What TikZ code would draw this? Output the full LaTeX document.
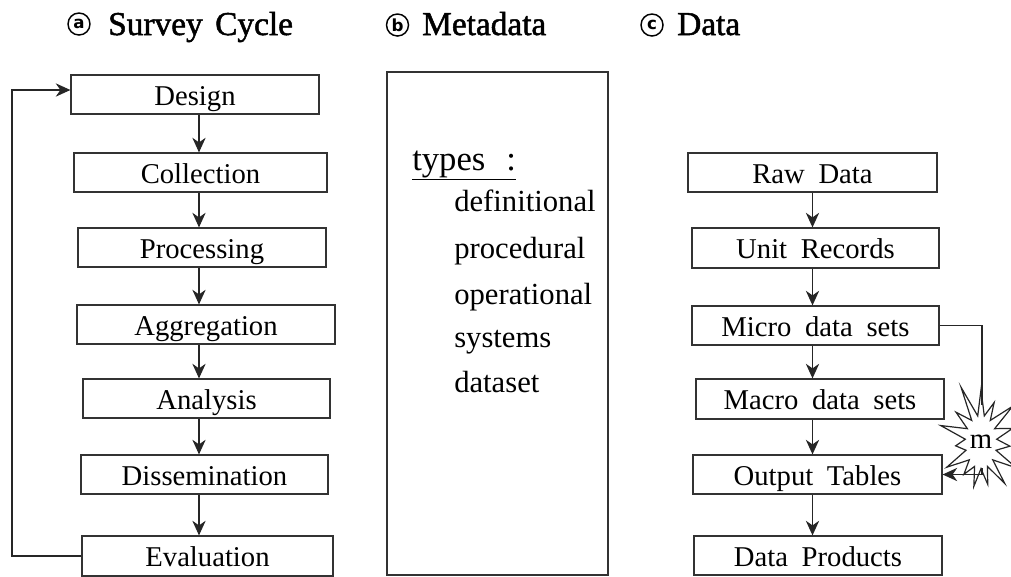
\documentclass[tikz,border=0pt]{standalone}
\usepackage{fontspec}
\setmainfont{Liberation Serif}[WordSpace=1.9]
\newfontfamily\headfont{Liberation Serif}[FakeBold=1.5,WordSpace=1.5]
\newfontfamily\circfont{DejaVu Sans}
\usetikzlibrary{arrows.meta,shapes.symbols}

\begin{document}
\begin{tikzpicture}[x=0.75pt,y=-0.75pt,
  stepbox/.style={draw=black!80,line width=0.9pt,minimum height=29.25pt,
    inner sep=0pt,text height=17.5pt,text depth=1.75pt,font=\fontsize{21.5}{24}\selectfont},
  link/.style={draw=black!85,line width=0.9pt},
  arr/.style={link,-{Stealth[length=11pt,width=10pt,inset=3.5pt]}},
  headtext/.style={anchor=base west,inner sep=0pt,font=\headfont\fontsize{25}{28}\selectfont},
  circ/.style={circle,draw=black,line width=1.1pt,minimum size=16.5pt,inner sep=0pt,
    font=\circfont\bfseries\fontsize{12.5}{13}\selectfont},
  item/.style={anchor=base west,inner sep=0pt,font=\fontsize{23}{26}\selectfont}]
\useasboundingbox (0,0) rectangle (1011,576);

% column headings
\node[circ] (ca) at (79,24) {a};
\node[headtext] (ta) at (108,35) {Survey Cycle};
\node[circ] (cb) at (397.5,25) {b};
\node[headtext] (tb) at (422,35) {Metadata};
\node[circ] (cc) at (652,25) {c};
\node[headtext] (tc) at (677,35) {Data};

% survey cycle
\node[stepbox,minimum width=186pt]    (design)  at (195,94.5)  {Design};
\node[stepbox,minimum width=189.75pt] (collect) at (200.5,172.5) {Collection};
\node[stepbox,minimum width=186pt]    (process) at (202,247.5) {Processing};
\node[stepbox,minimum width=193.5pt]  (aggr)    at (206,324.5) {Aggregation};
\node[stepbox,minimum width=185.25pt] (anal)    at (206.5,398.5) {Analysis};
\node[stepbox,minimum width=185.25pt] (dissem)  at (204.5,474.5) {Dissemination};
\node[stepbox,minimum width=188.25pt,minimum height=30pt] (eval) at (207.5,556) {Evaluation};

\coordinate (ax) at (199,0);
\draw[arr] (design.south -| ax)  -- (collect.north -| ax);
\draw[arr] (collect.south -| ax) -- (process.north -| ax);
\draw[arr] (process.south -| ax) -- (aggr.north -| ax);
\draw[arr] (aggr.south -| ax)    -- (anal.north -| ax);
\draw[arr] (anal.south -| ax)    -- (dissem.north -| ax);
\draw[arr] (dissem.south -| ax)  -- (eval.north -| ax);

% feedback loop
\coordinate (loop) at (12,300);
\coordinate (din) at (0,90);
\draw[arr] (eval.west) -| (loop) |- (design.west |- din);

% metadata
\node[draw=black!80,line width=0.9pt,minimum width=165.75pt,minimum height=377.25pt,inner sep=0pt]
  (meta) at (497.5,323.5) {};
\node[anchor=base west,inner sep=0pt,font=\fontsize{26}{30}\selectfont] (types) at (412,170)
  {\underline{types\hspace{0.6em}:}};
\node[item] (i1) at (454,211) {definitional};
\node[item] (i2) at (454,258) {procedural};
\node[item] (i3) at (454,304) {operational};
\node[item] (i4) at (454,347) {systems};
\node[item] (i5) at (454,392) {dataset};

% data
\node[stepbox,minimum width=186.75pt] (raw)   at (812.5,172.5) {Raw Data};
\node[stepbox,minimum width=185.25pt,minimum height=30pt] (unit)  at (815.5,248) {Unit Records};
\node[stepbox,minimum width=185.25pt] (micro) at (815.5,325.5) {Micro data sets};
\node[stepbox,minimum width=186pt,minimum height=30pt]    (macro) at (820,399) {Macro data sets};
\node[stepbox,minimum width=186.75pt] (outt)  at (817.5,474.5) {Output Tables};
\node[stepbox,minimum width=186pt]    (prod)  at (818,555.5) {Data Products};

\coordinate (dx) at (812.5,0);
\draw[arr] (raw.south -| dx)   -- (unit.north -| dx);
\draw[arr] (unit.south -| dx)  -- (micro.north -| dx);
\draw[arr] (micro.south -| dx) -- (macro.north -| dx);
\draw[arr] (macro.south -| dx) -- (outt.north -| dx);
\draw[arr] (outt.south -| dx)  -- (prod.north -| dx);

% side path through the burst
\node[starburst,draw=black!85,fill=white,line width=0.9pt,starburst points=15,
  starburst point height=26pt,random starburst=11,minimum width=64pt,minimum height=92pt,
  inner sep=0pt,font=\fontsize{21.5}{24}\selectfont] (burst) at (981,442) {m};
\coordinate (mtop) at (982,405);
\coordinate (mbot) at (982,468);
\draw[link] (micro.east) -| (mtop);
\draw[arr] (mbot) |- (outt.east);
\end{tikzpicture}
\end{document}
